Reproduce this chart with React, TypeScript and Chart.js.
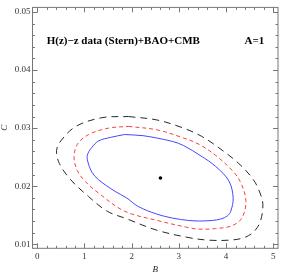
import React, { useEffect, useRef } from "react";
import { Chart, registerables } from "chart.js";

Chart.register(...registerables);

// Axis ticks
const xTicks = [0, 1, 2, 3, 4, 5];
const xTickLabels = ["0", "1", "2", "3", "4", "5"];
const yTicks = [0.01, 0.02, 0.03, 0.04, 0.05];
const yTickLabels = ["0.01", "0.02", "0.03", "0.04", "0.05"];
const xMinorStep = 0.2;
const yMinorStep = 0.002;

// Best-fit point
const bestB = [2.61];
const bestC = [0.0214];

// 1-sigma contour (blue, solid)
const blueB = [1.85, 2.24, 2.53, 2.87, 3.10, 3.47, 3.78, 4.06, 4.15, 4.10, 4.03, 3.89, 3.71, 3.44, 3.20, 2.87, 2.53, 2.14, 1.89, 1.65, 1.30, 1.16, 1.08, 1.06, 1.15, 1.30, 1.55, 1.85];
const blueC = [0.0289, 0.0287, 0.0283, 0.0277, 0.0270, 0.0252, 0.0234, 0.0209, 0.0180, 0.0157, 0.0149, 0.01435, 0.0141, 0.0140, 0.0141, 0.0145, 0.0152, 0.0165, 0.0180, 0.0191, 0.0211, 0.0224, 0.0240, 0.0253, 0.0266, 0.0278, 0.0284, 0.0289];

// 2-sigma contour (red, dashed)
const redB = [1.93, 2.54, 3.10, 3.43, 3.78, 4.13, 4.30, 4.42, 4.34, 4.13, 3.78, 3.43, 3.24, 2.54, 1.85, 1.30, 1.02, 0.85, 0.78, 0.85, 1.09, 1.51, 1.93];
const redC = [0.0303, 0.0297, 0.0283, 0.0272, 0.0253, 0.0227, 0.0208, 0.0175, 0.0146, 0.0132, 0.0127, 0.0126, 0.0128, 0.0141, 0.0157, 0.0188, 0.0208, 0.0227, 0.0250, 0.0272, 0.0289, 0.0300, 0.0303];

// 3-sigma contour (black, long dashed)
const blackB = [1.93, 2.54, 3.10, 3.48, 3.85, 4.27, 4.58, 4.72, 4.78, 4.72, 4.58, 4.37, 4.06, 3.64, 3.24, 2.54, 1.89, 1.48, 1.09, 0.71, 0.47, 0.41, 0.50, 0.82, 1.37, 1.93];
const blackC = [0.0320, 0.0314, 0.0300, 0.0286, 0.0266, 0.0239, 0.0211, 0.0188, 0.0168, 0.0138, 0.0121, 0.0111, 0.0107, 0.0107, 0.0111, 0.0124, 0.0144, 0.0157, 0.0182, 0.0211, 0.0239, 0.0261, 0.0278, 0.0303, 0.0318, 0.0320];

// Annotations (text, B, C)
const titleText = "H(z)\u2212z data (Stern)+BAO+CMB";
const titlePos = [0.2, 0.04505];
const paramText = "A=1";
const paramPos = [4.39, 0.04505];

const toPts = (xs: number[], ys: number[]) => xs.map((x, i) => ({ x, y: ys[i] }));

const framePlugin = {
  id: "frameTicks",
  afterDatasetsDraw(chart: any) {
    const { ctx, chartArea: a, scales } = chart;
    const xs = scales.x;
    const ys = scales.y;
    ctx.save();
    ctx.strokeStyle = "#777";
    ctx.lineWidth = 1;
    ctx.strokeRect(a.left, a.top, a.right - a.left, a.bottom - a.top);
    const major = 5;
    const minor = 2.5;
    for (let k = 0; k <= 25; k++) {
      const v = k * xMinorStep;
      const len = k % 5 === 0 ? major : minor;
      const px = Math.round(xs.getPixelForValue(v)) + 0.5;
      ctx.beginPath();
      ctx.moveTo(px, a.bottom);
      ctx.lineTo(px, a.bottom - len);
      ctx.moveTo(px, a.top);
      ctx.lineTo(px, a.top + len);
      ctx.stroke();
    }
    for (let k = 0; k <= 20; k++) {
      const v = 0.01 + k * yMinorStep;
      const len = k % 5 === 0 ? major : minor;
      const py = Math.round(ys.getPixelForValue(v)) + 0.5;
      ctx.beginPath();
      ctx.moveTo(a.left, py);
      ctx.lineTo(a.left + len, py);
      ctx.moveTo(a.right, py);
      ctx.lineTo(a.right - len, py);
      ctx.stroke();
    }
    ctx.fillStyle = "#000";
    ctx.textBaseline = "middle";
    ctx.textAlign = "left";
    ctx.font = 'bold 11px "Liberation Serif", "DejaVu Serif", serif';
    ctx.fillText(titleText, xs.getPixelForValue(titlePos[0]), ys.getPixelForValue(titlePos[1]));
    ctx.fillText(paramText, xs.getPixelForValue(paramPos[0]), ys.getPixelForValue(paramPos[1]));
    ctx.restore();
  },
};

export default function App() {
  const ref = useRef<HTMLCanvasElement | null>(null);
  useEffect(() => {
    document.body.style.margin = "0";
    const canvas = ref.current!;
    const tickFont = { family: '"Liberation Serif", serif', size: 9, lineHeight: 1.2 };
    const chart = new Chart(canvas, {
      type: "scatter",
      data: {
        datasets: [
          {
            data: toPts(blackB, blackC),
            showLine: true,
            borderColor: "rgb(40,40,40)",
            borderWidth: 1,
            borderDash: [7, 5],
            pointRadius: 0,
            tension: 0.35,
            fill: false,
          },
          {
            data: toPts(redB, redC),
            showLine: true,
            borderColor: "rgb(255,60,60)",
            borderWidth: 1,
            borderDash: [4, 3],
            pointRadius: 0,
            tension: 0.35,
            fill: false,
          },
          {
            data: toPts(blueB, blueC),
            showLine: true,
            borderColor: "rgb(70,70,255)",
            borderWidth: 1,
            pointRadius: 0,
            tension: 0.35,
            fill: false,
          },
          {
            data: toPts(bestB, bestC),
            showLine: false,
            pointRadius: 1.8,
            pointBackgroundColor: "#000",
            pointBorderWidth: 0,
          },
        ],
      },
      options: {
        responsive: false,
        animation: false,
        devicePixelRatio: 1,
        layout: { padding: { top: 1, right: 1, left: 0, bottom: 0 } },
        plugins: { legend: { display: false }, tooltip: { enabled: false }, title: { display: false } },
        scales: {
          x: {
            type: "linear",
            min: -0.1,
            max: 5.1,
            grid: { display: false, drawTicks: false },
            border: { display: false },
            afterBuildTicks: (s: any) => {
              s.ticks = xTicks.map((v) => ({ value: v }));
            },
            afterFit: (s: any) => {
              s.height = 28.7;
            },
            ticks: {
              autoSkip: false,
              maxRotation: 0,
              padding: 2.5,
              color: "#333",
              font: tickFont,
              callback: (_v: any, i: number) => xTickLabels[i],
            },
            title: {
              display: true,
              text: "B",
              color: "#222",
              font: { family: '"Liberation Serif", serif', size: 9, style: "italic", lineHeight: 1 },
              padding: { top: 0, bottom: 2.5 },
            },
          },
          y: {
            type: "linear",
            min: 0.0093,
            max: 0.0508,
            grid: { display: false, drawTicks: false },
            border: { display: false },
            afterBuildTicks: (s: any) => {
              s.ticks = yTicks.map((v) => ({ value: v }));
            },
            afterFit: (s: any) => {
              s.width = 32.5;
            },
            ticks: {
              autoSkip: false,
              padding: 2,
              color: "#333",
              font: tickFont,
              callback: (_v: any, i: number) => yTickLabels[i],
            },
            title: {
              display: true,
              text: "C",
              color: "#222",
              font: { family: '"Liberation Serif", serif', size: 9, style: "italic", lineHeight: 1 },
              padding: { top: 0, bottom: 0 },
            },
          },
        },
      },
      plugins: [framePlugin],
    } as any);
    return () => chart.destroy();
  }, []);
  return (
    <div style={{ position: "absolute", left: 0, top: 0, width: 282, height: 277, background: "#fff" }}>
      <canvas ref={ref} width={282} height={277} style={{ display: "block" }} />
    </div>
  );
}
